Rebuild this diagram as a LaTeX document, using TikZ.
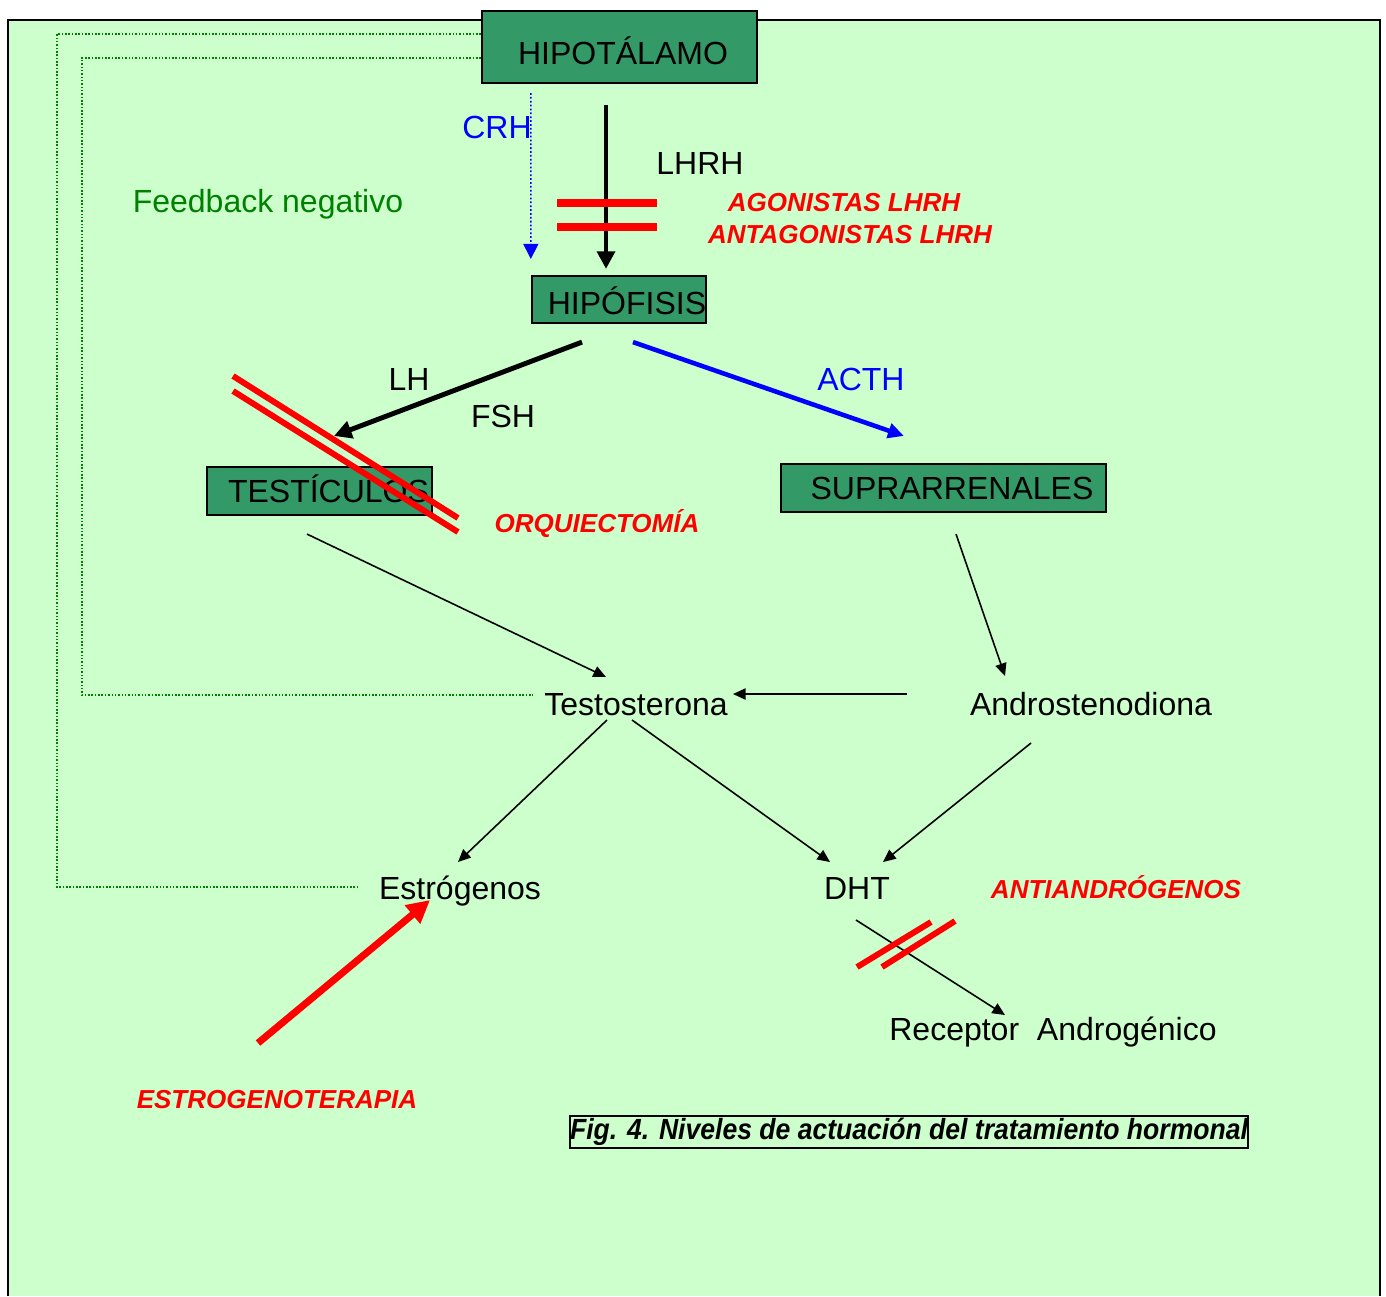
\documentclass[tikz,border=0pt]{standalone}
\usepackage{fontspec}
\setmainfont{Liberation Sans}
\usetikzlibrary{arrows.meta,calc}
\definecolor{bggreen}{HTML}{CCFFCC}
\definecolor{organgreen}{HTML}{339966}
\definecolor{fbgreen}{HTML}{008000}
\tikzset{
  organ/.style={draw=black, fill=organgreen, line width=0.6pt, inner sep=0pt,
    text height=6.5pt, text depth=0pt, font=\fontsize{9.1}{11}\selectfont},
  hormone/.style={inner sep=0pt, text height=6.5pt, text depth=0pt,
    font=\fontsize{9.1}{11}\selectfont},
  therapy/.style={inner sep=0pt, text height=5.3pt, text depth=0pt, text=red,
    font=\fontsize{7.4}{9}\selectfont\bfseries\itshape},
  thinarrow/.style={line width=0.45pt, -{Triangle[length=3.6pt,width=3.2pt]}},
  thickarrow/.style={line width=1.4pt, -{Triangle[length=5pt,width=5pt]}},
  blockbar/.style={red, line width=2pt},
  feedback/.style={fbgreen, line width=0.4pt, dash pattern=on 0.45pt off 0.5pt},
}
\begin{document}
\begin{tikzpicture}[x=0.01cm,y=-0.01cm]
  \useasboundingbox (0,0) rectangle (1386,1296);

  % Background and frame
  \fill[bggreen] (8,20) rectangle (1380,1296);
  \draw[line width=0.6pt] (8,1296) -- (8,20) -- (1380,20) -- (1380,1296);

  % Organs
  \node[organ, minimum width=2.75cm, minimum height=0.72cm, text height=9.9pt] (hipot) at (619.5,47) {\hspace*{0.07cm}HIPOTÁLAMO};
  \node[organ, minimum width=1.74cm, minimum height=0.47cm, text height=8.5pt] (hipof) at (619,299.5) {\hspace*{0.16cm}HIPÓFISIS};
  \node[organ, minimum width=2.25cm, minimum height=0.48cm] (testic) at (319.5,491) {\hspace*{0.18cm}TESTÍCULOS};
  \node[organ, minimum width=3.25cm, minimum height=0.48cm] (supra) at (943.5,488) {\hspace*{0.17cm}SUPRARRENALES};

  % Hormones
  \node[hormone, text=blue] (crh) at (497,127) {CRH};
  \node[hormone] (lhrh) at (700,163) {LHRH};
  \node[hormone, text=fbgreen] (feedb) at (268,201) {Feedback negativo};
  \node[hormone] (lh) at (409,379) {LH};
  \node[hormone] (fsh) at (503,416) {FSH};
  \node[hormone, text=blue] (acth) at (861,379) {ACTH};
  \node[hormone] (testo) at (636,704) {Testosterona};
  \node[hormone] (andro) at (1091,704) {Androstenodiona};
  \node[hormone] (estro) at (460,888) {Estrógenos};
  \node[hormone] (dht) at (857,888) {DHT};
  \node[hormone] (recep) at (1053,1029) {Receptor\ \ Androgénico};

  % Treatments
  \node[therapy] (agon) at (844,202) {AGONISTAS LHRH};
  \node[therapy] (antag) at (850,234) {ANTAGONISTAS LHRH};
  \node[therapy] (orqui) at (597,523) {ORQUIECTOMÍA};
  \node[therapy] (antiand) at (1116,889) {ANTIANDRÓGENOS};
  \node[therapy] (estrog) at (277,1099) {ESTROGENOTERAPIA};

  % Caption
  \node[draw, line width=0.6pt, inner sep=0pt, minimum width=6.78cm, minimum height=0.32cm,
    font=\fontsize{8.3}{10}\selectfont\bfseries\itshape] (fig) at (909,1132)
    {\scalebox{0.91}[1]{Fig. 4. Niveles de actuación del tratamiento hormonal}};

  % Feedback loops
  \draw[feedback] ($(hipot.north west)+(0,24)$) -- ++(-424,0) |- ($(estro.center)+(-102,-1)$);
  \draw[feedback] ($(hipot.north west)+(0,48)$) -- ++(-399,0) |- ($(testo.center)+(-103,-9)$);

  % Hypothalamus to pituitary
  \draw[blue, line width=0.4pt, dash pattern=on 0.5pt off 0.6pt,
    -{Triangle[length=4.3pt,width=4.3pt]}]
    ($(hipot.south west)+(50,9)$) -- ($(hipof.north west)+(0,-16)$);
  \draw[thickarrow] ($(hipot.south)+(-13.5,21)$) -- ($(hipof.north)+(-13,-6)$);

  % Pituitary to glands
  \draw[thickarrow] ($(hipof.south)+(-37,18)$) -- ($(testic.north)+(14.5,-30)$);
  \draw[blue, line width=1.3pt, -{Triangle[length=4.5pt,width=4.2pt]}]
    ($(hipof.south)+(14,18)$) -- ($(supra.north west)+(124,-27)$);

  % Steroid pathway
  \draw[thinarrow] ($(testic.south)+(-12.5,18)$) -- ($(testo.center)+(-30,-27)$);
  \draw[thinarrow] ($(supra.south)+(12.5,21)$) -- ($(andro.center)+(-86,-28)$);
  \draw[thinarrow] ($(andro.center)+(-184,-10)$) -- ($(testo.center)+(97,-10)$);
  \draw[thinarrow] ($(testo.center)+(-29,16)$) -- ($(estro.center)+(-2,-26)$);
  \draw[thinarrow] ($(testo.center)+(-4,16)$) -- ($(dht.center)+(-27,-26)$);
  \draw[thinarrow] ($(andro.center)+(-60,39)$) -- ($(dht.center)+(26,-26)$);
  \draw[thinarrow] ($(dht.center)+(-1,32)$) -- ($(recep.center)+(-48,-14)$);
  \draw[red, line width=2pt, -{Triangle[length=6.5pt,width=6.5pt]}]
    ($(estrog.center)+(-19,-56)$) -- ($(estro.center)+(-30,12)$);

  % Blocking bars
  \draw[blockbar] (557,203) -- (657,203);
  \draw[blockbar] (557,227) -- (657,227);
  \draw[red, line width=1.7pt] (233,376) -- (458,518);
  \draw[red, line width=1.7pt] (233,391) -- (458,532);
  \draw[red, line width=1.7pt] (857,967) -- (931,922);
  \draw[red, line width=1.7pt] (882,967) -- (955,921);
\end{tikzpicture}
\end{document}
